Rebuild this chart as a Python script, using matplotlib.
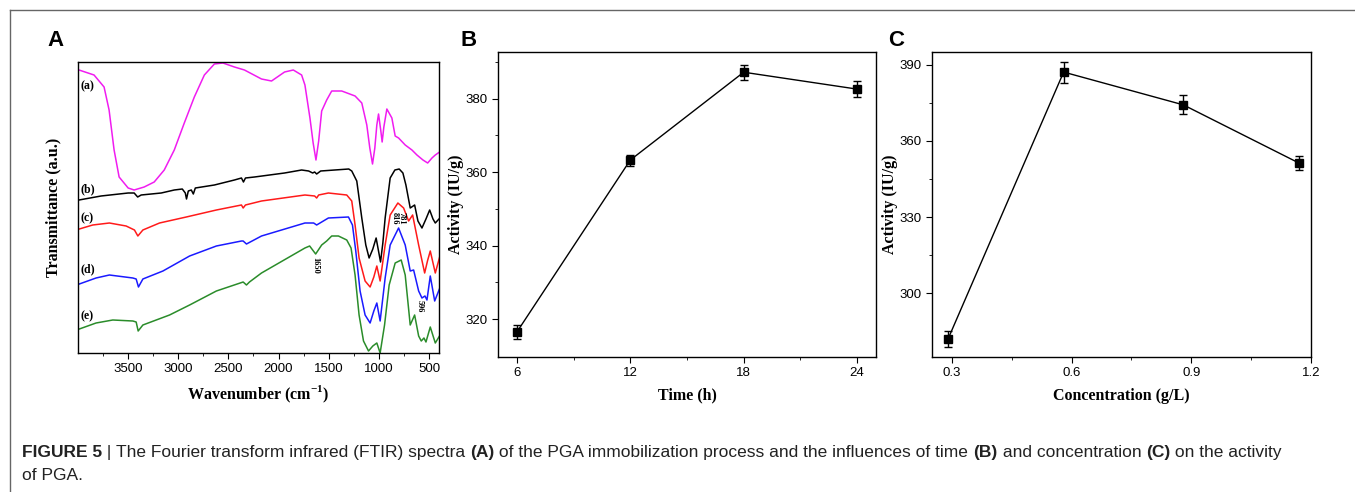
import matplotlib
matplotlib.use('Agg')
import matplotlib.pyplot as plt
from matplotlib.lines import Line2D

W, H = 1355, 492

# ---- datos panel A (FTIR), lectura aproximada del grafico ----
wn_a = [3990, 3840, 3740, 3690, 3640, 3590, 3500, 3440, 3340, 3240, 3140, 3040, 2940, 2840,
        2740, 2640, 2555, 2440, 2340, 2170, 2070, 1940, 1853, 1770, 1737, 1687, 1655, 1627,
        1600, 1570, 1520, 1470, 1370, 1237, 1170, 1120, 1090, 1063, 1040, 1020, 1003, 980,
        967, 950, 920, 870, 837, 803, 737, 670, 620, 560, 513, 470, 437, 380]
tr_a = [283, 278, 266, 243, 203, 176, 165, 163, 166, 171, 183, 203, 230, 256,
        278, 289, 290, 286, 283, 274, 272, 281, 283, 278, 268, 235, 210, 193,
        212, 242, 253, 262, 262, 257, 250, 228, 205, 189, 205, 228, 239, 222,
        211, 226, 244, 235, 217, 215, 208, 203, 198, 193, 190, 195, 198, 202]

wn_b = [3990, 3770, 3500, 3440, 3405, 3370, 3170, 3040, 2960, 2930, 2918, 2900, 2870, 2850,
        2830, 2640, 2440, 2370, 2350, 2330, 2240, 1940, 1770, 1700, 1660, 1640, 1620, 1580,
        1440, 1300, 1270, 1220, 1170, 1130, 1097, 1060, 1027, 1005, 983, 960, 937, 887,
        840, 797, 760, 730, 687, 643, 610, 570, 530, 493, 460, 437, 400, 380]
tr_b = [153, 157, 160, 160, 156, 158, 160, 163, 164, 160, 154, 162, 163, 159,
        165, 168, 173, 175, 171, 175, 176, 180, 183, 182, 180, 181, 179, 182,
        183, 184, 182, 172, 135, 108, 95, 104, 115, 103, 91, 110, 135, 175,
        183, 184, 180, 168, 145, 148, 132, 125, 134, 143, 134, 130, 134, 136]

wn_c = [3987, 3853, 3687, 3520, 3437, 3403, 3353, 3187, 2920, 2620, 2370, 2353, 2330, 2170,
        1737, 1640, 1620, 1600, 1503, 1320, 1270, 1237, 1197, 1137, 1087, 1050, 1020, 987,
        937, 887, 810, 753, 703, 663, 603, 543, 515, 487, 437, 377]
tr_c = [124, 128, 130, 127, 123, 117, 123, 130, 136, 143, 148, 145, 148, 152,
        158, 157, 155, 158, 160, 158, 152, 128, 95, 72, 66, 76, 87, 72,
        108, 138, 150, 145, 132, 138, 108, 80, 92, 102, 80, 102]

wn_d = [3987, 3820, 3687, 3453, 3420, 3397, 3353, 3153, 2887, 2620, 2370, 2353, 2320, 2170,
        1737, 1650, 1620, 1503, 1303, 1263, 1230, 1187, 1137, 1087, 1050, 1020, 987, 937,
        887, 803, 737, 687, 653, 603, 570, 540, 520, 487, 443, 380]
tr_d = [69, 75, 78, 75, 74, 66, 74, 82, 97, 107, 112, 112, 109, 117,
        130, 130, 128, 135, 136, 128, 102, 62, 38, 30, 42, 50, 32, 75,
        108, 125, 108, 82, 83, 62, 55, 57, 53, 77, 52, 68]

wn_e = [3987, 3820, 3653, 3453, 3420, 3400, 3353, 3087, 2887, 2620, 2353, 2320, 2290, 2170,
        1737, 1690, 1630, 1570, 1520, 1470, 1403, 1320, 1277, 1237, 1197, 1153, 1103, 1060,
        1020, 987, 943, 897, 837, 777, 737, 687, 643, 603, 577, 550, 530, 487, 437, 377]
tr_e = [24, 30, 33, 32, 31, 22, 28, 38, 48, 62, 71, 68, 71, 80,
        105, 107, 99, 108, 112, 117, 117, 113, 105, 78, 38, 12, 2, 7,
        10, 0, 28, 68, 90, 93, 78, 28, 38, 17, 12, 15, 11, 26, 10, 20]

spectra = [(wn_a, tr_a, '#f01cf0', '(a)'), (wn_b, tr_b, 'black', '(b)'),
           (wn_c, tr_c, '#ff1a1a', '(c)'), (wn_d, tr_d, '#1a1aff', '(d)'),
           (wn_e, tr_e, '#2a8c2a', '(e)')]
letter_y = [267, 164, 135, 84, 37]

# ---- datos panel B (tiempo) ----
time_h = [6, 12, 18, 24]
act_time = [316.5, 363.3, 387.2, 382.6]
err_time = [1.9, 1.5, 2.0, 2.2]

# ---- datos panel C (concentracion) ----
conc = [0.29, 0.58, 0.88, 1.17]
act_conc = [282.0, 387.1, 374.2, 351.3]
err_conc = [3.1, 4.1, 3.7, 2.6]

plt.rcParams['mathtext.fontset'] = 'custom'
plt.rcParams['mathtext.rm'] = 'Liberation Serif:bold'
plt.rcParams['mathtext.bf'] = 'Liberation Serif:bold'
plt.rcParams['xtick.labelsize'] = 9.5
plt.rcParams['ytick.labelsize'] = 9.5
plt.rcParams['font.family'] = 'Liberation Sans'

fig = plt.figure(figsize=(W / 100, H / 100), dpi=100)


def caja(l, t, r, b):
    return [l / W, 1 - b / H, (r - l) / W, (b - t) / H]


lab = dict(family='Liberation Serif', weight='bold', fontsize=11.5)

# Panel A
axA = fig.add_axes(caja(78, 62, 439, 353))
for wn, tr, col, nom in spectra:
    axA.plot(wn, tr, color=col, lw=1.1)
for (wn, tr, col, nom), yy in zip(spectra, letter_y):
    axA.text(3975, yy, nom, fontsize=8.5, family='Liberation Serif', weight='bold',
             va='center', ha='left')
for txt, xx, yy in [('1650', 1630, 88), ('816', 845, 135), ('781', 772, 135), ('596', 590, 47)]:
    axA.text(xx, yy, txt, rotation=-90, fontsize=6, family='Liberation Serif',
             weight='bold', ha='center', va='center')
axA.set_xlim(4000, 400)
axA.set_ylim(0, 291)
axA.set_xticks([3500, 3000, 2500, 2000, 1500, 1000, 500])
axA.set_xticks([3750, 3250, 2750, 2250, 1750, 1250, 750], minor=True)
axA.set_yticks([])
axA.tick_params(axis='x', direction='out', length=4, top=False)
axA.tick_params(axis='x', which='minor', length=2.5)
axA.set_xlabel('Wavenumber (cm$^{-1}$)', labelpad=6, **lab)
axA.set_ylabel('Transmittance (a.u.)', labelpad=12, **lab)

# Panel B
axB = fig.add_axes(caja(498, 52, 876, 357))
axB.errorbar(time_h, act_time, yerr=err_time, color='black', marker='s', ms=5.5,
             lw=1, capsize=3, elinewidth=1, capthick=1)
axB.set_xlim(5, 25)
axB.set_ylim(309.7, 392.7)
axB.set_xticks(time_h)
axB.set_xticks([9, 15, 21], minor=True)
axB.set_yticks([320, 340, 360, 380])
axB.set_yticks([330, 350, 370, 390], minor=True)
axB.set_xlabel('Time (h)', labelpad=6, **lab)
axB.set_ylabel('Activity (IU/g)', labelpad=1, **lab)

# Panel C
axC = fig.add_axes(caja(932, 52, 1311, 357))
axC.errorbar(conc, act_conc, yerr=err_conc, color='black', marker='s', ms=5.5,
             lw=1, capsize=3, elinewidth=1, capthick=1)
axC.set_xlim(0.25, 1.2)
axC.set_ylim(275, 395)
axC.set_xticks([0.3, 0.6, 0.9, 1.2])
axC.set_xticks([0.45, 0.75, 1.05], minor=True)
axC.set_yticks([300, 330, 360, 390])
axC.set_yticks([315, 345, 375], minor=True)
axC.set_xlabel('Concentration (g/L)', labelpad=6, **lab)
axC.set_ylabel('Activity (IU/g)', labelpad=1, **lab)

for ax in (axB, axC):
    ax.tick_params(direction='out', length=4, top=False, right=False)
    ax.tick_params(which='minor', length=2.5)
for ax in (axA, axB, axC):
    for s in ax.spines.values():
        s.set_linewidth(1)

# letras de panel
for letra, xx in [('A', 47), ('B', 460), ('C', 888)]:
    fig.text(xx / W, 1 - 46 / H, letra, fontsize=16, weight='bold',
             family='Liberation Sans', ha='left', va='baseline')

# marco exterior
fig.add_artist(Line2D([10 / W, 10 / W], [0, 1 - 10 / H], color='#666666', lw=1))
fig.add_artist(Line2D([10 / W, 1], [1 - 10 / H, 1 - 10 / H], color='#666666', lw=1))

# pie de figura con partes en negrita
renderer = fig.canvas.get_renderer()


def linea(partes, x0, y0, size=12.5):
    x = x0
    for txt, peso in partes:
        t = fig.text(x / W, 1 - y0 / H, txt, fontsize=size, weight=peso,
                     family='Liberation Sans', ha='left', va='baseline', color='#222222')
        bb = t.get_window_extent(renderer)
        x += bb.width


linea([('FIGURE 5', 'bold'), (' | ', 'normal'),
       ('The Fourier transform infrared (FTIR) spectra ', 'normal'), ('(A)', 'bold'),
       (' of the PGA immobilization process and the influences of time ', 'normal'),
       ('(B)', 'bold'), (' and concentration ', 'normal'), ('(C)', 'bold'),
       (' on the activity', 'normal')], 22, 457)
linea([('of PGA.', 'normal')], 22, 480)

fig.savefig('out.png', dpi=100)
